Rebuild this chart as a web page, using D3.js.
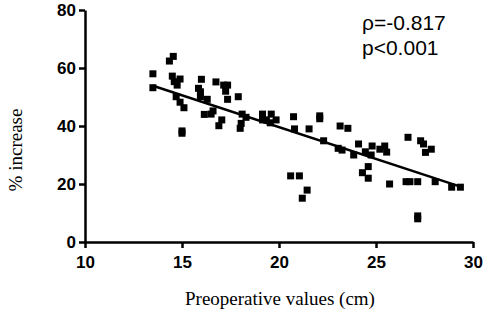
<!DOCTYPE html>
<html><head><meta charset="utf-8">
<script src="https://cdn.jsdelivr.net/npm/d3@7"></script>
<style>body{margin:0;background:#fff}svg{display:block}</style>
</head><body>
<script>
const xVals = [13.5,13.5,14.35,14.55,14.5,14.6,14.9,14.75,14.7,14.9,15.1,15.0,15.0,16.0,15.85,15.95,15.95,16.3,16.15,16.5,16.6,16.75,17.15,17.35,17.25,17.35,17.05,16.9,17.9,18.1,18.3,18.05,18.0,19.15,19.6,19.15,19.35,19.55,19.85,20.75,20.8,21.55,20.6,21.05,21.45,21.2,22.1,22.1,22.3,23.15,23.55,23.05,23.25,24.1,23.85,24.45,24.8,24.75,25.2,25.45,25.55,24.6,24.3,24.6,25.7,26.65,27.3,27.45,27.85,27.55,26.55,26.75,27.15,28.05,28.9,29.35,27.15,27.15];
const yVals = [58,53.2,62.4,64,57.2,55.3,56.2,54.1,50.1,48.2,46.3,37.5,38.3,56.1,53,51.8,50.1,49.2,44,44.1,45.2,55.2,54.1,54.1,52,49.2,42.1,40.1,50.1,44.1,43,40.9,39.2,44.1,44.1,42.1,42.1,41.1,42.1,43.2,39,39,22.8,22.8,17.9,15.1,43.5,42.5,34.9,40,39.2,32.3,31.7,33.8,30,31.1,33.1,30,32,33.1,31,26,23.9,22,20,36.1,34.9,33.8,32,30.9,20.8,20.8,20.8,20.8,18.9,18.9,9,8];
const fitX = [13.5, 29.35];
const fitY = [53.9, 19.1];
const xTicks = [10,15,20,25,30];
const yTicks = [0,20,40,60,80];
const statLines = ["\u03C1=-0.817", "p<0.001"];
const xTitle = "Preoperative values (cm)";
const yTitle = "% increase";

const W = 486, H = 318;
const svg = d3.select("body").append("svg").attr("width", W).attr("height", H);
const x = d3.scaleLinear().domain([10,30]).range([85,473]);
const y = d3.scaleLinear().domain([0,80]).range([242,10]);

const xAxis = svg.append("g").attr("transform","translate(0,242)")
  .call(d3.axisBottom(x).tickValues(xTicks).tickSize(6).tickPadding(8).tickSizeOuter(0));
const yAxis = svg.append("g").attr("transform","translate(85,0)")
  .call(d3.axisLeft(y).tickValues(yTicks).tickSize(6).tickPadding(3).tickSizeOuter(0));
[xAxis,yAxis].forEach(g=>{
  g.select(".domain").attr("stroke","#000").attr("stroke-width",2.5);
  g.selectAll(".tick line").attr("stroke","#000").attr("stroke-width",2.5);
  g.selectAll(".tick text").attr("fill","#000").style("font-family","Liberation Sans, Arial, sans-serif")
    .style("font-weight","bold").style("font-size","17px");
});

svg.append("g").selectAll("rect").data(xVals.map((v,i)=>[v,yVals[i]])).join("rect")
  .attr("x",d=>x(d[0])-3.5).attr("y",d=>y(d[1])-3.5).attr("width",7).attr("height",7).attr("fill","#000");

svg.append("line").attr("x1",x(fitX[0])).attr("y1",y(fitY[0])).attr("x2",x(fitX[1])).attr("y2",y(fitY[1]))
  .attr("stroke","#000").attr("stroke-width",2.5);

svg.append("g").selectAll("text").data(statLines).join("text")
  .attr("x",362).attr("y",(d,i)=>30+i*25)
  .style("font-family","Liberation Sans, Arial, sans-serif").style("font-size","21px").attr("fill","#000")
  .text(d=>d);

svg.append("text").attr("x",280).attr("y",305).attr("text-anchor","middle")
  .style("font-family","Liberation Serif, Times New Roman, serif").style("font-size","19px").text(xTitle);
svg.append("text").attr("transform","translate(22,150) rotate(-90)").attr("text-anchor","middle")
  .style("font-family","Liberation Serif, Times New Roman, serif").style("font-size","19px").text(yTitle);
</script>
</body></html>
